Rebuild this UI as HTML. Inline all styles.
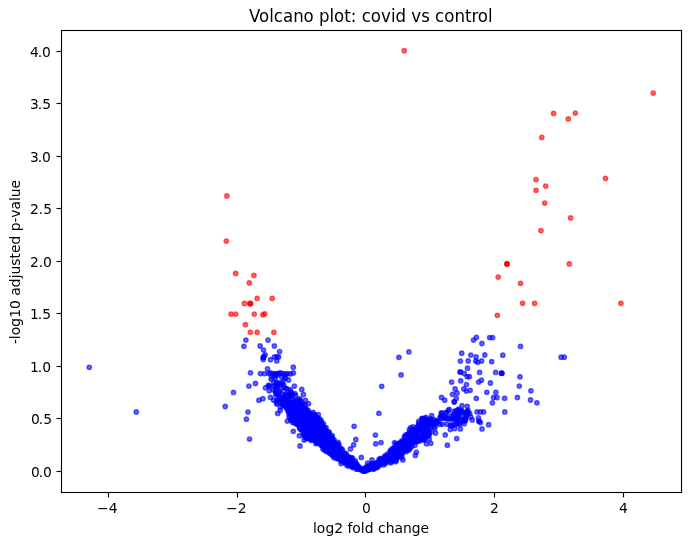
<!DOCTYPE html>
<html lang="en"><head><meta charset="utf-8"><title>Volcano plot: covid vs control</title>
<style>html,body{margin:0;padding:0;background:#fff}svg{display:block}text{font-family:"DejaVu Sans","Liberation Sans",sans-serif;fill:#000}.t{font-size:13.889px}.b circle,.r circle{r:2.196px}</style></head><body>
<svg width="691" height="545" viewBox="0 0 691 545">
<rect width="691" height="545" fill="#fff"/>
<defs><clipPath id="c"><rect x="61" y="30" width="620" height="462"/></clipPath></defs>
<g clip-path="url(#c)">
<g class="b" fill="#00f" fill-opacity="0.6" stroke="#00f" stroke-opacity="0.6" stroke-width="1.389">
<circle cx="282.5" cy="382.5" r="2.196"/><circle cx="280.6" cy="384.4" r="2.196"/><circle cx="283.5" cy="384.6" r="2.196"/><circle cx="274" cy="386.1" r="2.196"/><circle cx="275.9" cy="385.6" r="2.196"/><circle cx="277.7" cy="385.5" r="2.196"/><circle cx="277.5" cy="386.9" r="2.196"/><circle cx="281.5" cy="388.3" r="2.196"/><circle cx="284.2" cy="387.5" r="2.196"/><circle cx="273.2" cy="389.8" r="2.196"/><circle cx="286" cy="388.7" r="2.196"/><circle cx="286.9" cy="388.8" r="2.196"/><circle cx="290.2" cy="389.7" r="2.196"/><circle cx="275.5" cy="391.3" r="2.196"/><circle cx="276" cy="390" r="2.196"/><circle cx="278.6" cy="392.1" r="2.196"/><circle cx="279.9" cy="391.9" r="2.196"/><circle cx="291" cy="392" r="2.196"/><circle cx="276" cy="393.1" r="2.196"/><circle cx="277.2" cy="393.9" r="2.196"/><circle cx="282" cy="394" r="2.196"/><circle cx="285.9" cy="393.9" r="2.196"/><circle cx="290.2" cy="392.9" r="2.196"/><circle cx="291.6" cy="394.1" r="2.196"/><circle cx="292.6" cy="393.9" r="2.196"/><circle cx="294.9" cy="393.6" r="2.196"/><circle cx="275.9" cy="394.7" r="2.196"/><circle cx="285.6" cy="395" r="2.196"/><circle cx="287.9" cy="394.7" r="2.196"/><circle cx="290.2" cy="395.2" r="2.196"/><circle cx="295.6" cy="395.7" r="2.196"/><circle cx="279" cy="396.9" r="2.196"/><circle cx="284.6" cy="396.3" r="2.196"/><circle cx="287.6" cy="396.6" r="2.196"/><circle cx="288.3" cy="396.7" r="2.196"/><circle cx="289.3" cy="396" r="2.196"/><circle cx="291.3" cy="396.3" r="2.196"/><circle cx="278.8" cy="397.5" r="2.196"/><circle cx="282.9" cy="397.4" r="2.196"/><circle cx="285.2" cy="397.6" r="2.196"/><circle cx="288.2" cy="398" r="2.196"/><circle cx="278.8" cy="400" r="2.196"/><circle cx="281.2" cy="400.1" r="2.196"/><circle cx="284" cy="399.2" r="2.196"/><circle cx="285.2" cy="399.5" r="2.196"/><circle cx="288.7" cy="399.2" r="2.196"/><circle cx="292.4" cy="399.7" r="2.196"/><circle cx="298.3" cy="399.3" r="2.196"/><circle cx="300" cy="398.9" r="2.196"/><circle cx="282.5" cy="401.5" r="2.196"/><circle cx="284.3" cy="400.4" r="2.196"/><circle cx="288.3" cy="401.7" r="2.196"/><circle cx="294.9" cy="400.5" r="2.196"/><circle cx="296.7" cy="401.3" r="2.196"/><circle cx="299" cy="401.6" r="2.196"/><circle cx="301" cy="401.4" r="2.196"/><circle cx="280.2" cy="402.5" r="2.196"/><circle cx="282.6" cy="402.4" r="2.196"/><circle cx="284" cy="402.2" r="2.196"/><circle cx="284.7" cy="403.2" r="2.196"/><circle cx="287.6" cy="401.9" r="2.196"/><circle cx="288.7" cy="402.3" r="2.196"/><circle cx="290.8" cy="403.1" r="2.196"/><circle cx="293" cy="402.7" r="2.196"/><circle cx="294.6" cy="402.8" r="2.196"/><circle cx="297.8" cy="403" r="2.196"/><circle cx="299.3" cy="403.3" r="2.196"/><circle cx="283" cy="403.7" r="2.196"/><circle cx="283.7" cy="403.7" r="2.196"/><circle cx="288.1" cy="404.3" r="2.196"/><circle cx="289.6" cy="404.8" r="2.196"/><circle cx="291.8" cy="404.6" r="2.196"/><circle cx="293" cy="404.8" r="2.196"/><circle cx="294.6" cy="404.5" r="2.196"/><circle cx="296.2" cy="403.9" r="2.196"/><circle cx="297.6" cy="404.4" r="2.196"/><circle cx="299.1" cy="404.2" r="2.196"/><circle cx="301.9" cy="404.4" r="2.196"/><circle cx="303.4" cy="403.7" r="2.196"/><circle cx="282.5" cy="404.9" r="2.196"/><circle cx="283.9" cy="405.5" r="2.196"/><circle cx="289.8" cy="406.2" r="2.196"/><circle cx="291.3" cy="405.8" r="2.196"/><circle cx="293.4" cy="405" r="2.196"/><circle cx="293.9" cy="406.2" r="2.196"/><circle cx="296.4" cy="405.6" r="2.196"/><circle cx="297.7" cy="405.3" r="2.196"/><circle cx="300" cy="405" r="2.196"/><circle cx="302.3" cy="406.3" r="2.196"/><circle cx="305.2" cy="405.1" r="2.196"/><circle cx="285.8" cy="407.1" r="2.196"/><circle cx="287.3" cy="407.7" r="2.196"/><circle cx="288.6" cy="406.6" r="2.196"/><circle cx="290.4" cy="407.5" r="2.196"/><circle cx="291.7" cy="406.9" r="2.196"/><circle cx="293.6" cy="407.4" r="2.196"/><circle cx="296.5" cy="407.5" r="2.196"/><circle cx="297.9" cy="407.2" r="2.196"/><circle cx="300.1" cy="407.8" r="2.196"/><circle cx="286.6" cy="408.1" r="2.196"/><circle cx="288.4" cy="408.7" r="2.196"/><circle cx="290.3" cy="408.3" r="2.196"/><circle cx="292" cy="408.6" r="2.196"/><circle cx="293.1" cy="408.2" r="2.196"/><circle cx="293.7" cy="409.1" r="2.196"/><circle cx="295.7" cy="409.3" r="2.196"/><circle cx="297" cy="408" r="2.196"/><circle cx="299.3" cy="408.9" r="2.196"/><circle cx="300.9" cy="408" r="2.196"/><circle cx="302.1" cy="409.3" r="2.196"/><circle cx="303.7" cy="409" r="2.196"/><circle cx="305.6" cy="409" r="2.196"/><circle cx="306.2" cy="409.1" r="2.196"/><circle cx="287.6" cy="410" r="2.196"/><circle cx="288.2" cy="410.6" r="2.196"/><circle cx="289.4" cy="409.4" r="2.196"/><circle cx="291.5" cy="409.9" r="2.196"/><circle cx="293.4" cy="410.5" r="2.196"/><circle cx="293.7" cy="410.7" r="2.196"/><circle cx="295.3" cy="409.8" r="2.196"/><circle cx="298" cy="410.1" r="2.196"/><circle cx="298.5" cy="409.7" r="2.196"/><circle cx="300.2" cy="409.5" r="2.196"/><circle cx="301.3" cy="409.6" r="2.196"/><circle cx="303.5" cy="410.3" r="2.196"/><circle cx="304.8" cy="409.5" r="2.196"/><circle cx="305.7" cy="410.1" r="2.196"/><circle cx="308.2" cy="410.4" r="2.196"/><circle cx="289.1" cy="411.1" r="2.196"/><circle cx="290.2" cy="411.9" r="2.196"/><circle cx="291.8" cy="411.2" r="2.196"/><circle cx="292.2" cy="411.9" r="2.196"/><circle cx="294" cy="412.3" r="2.196"/><circle cx="296" cy="411.8" r="2.196"/><circle cx="297.7" cy="411.3" r="2.196"/><circle cx="298.3" cy="410.9" r="2.196"/><circle cx="299.9" cy="411" r="2.196"/><circle cx="302.6" cy="411.9" r="2.196"/><circle cx="303.8" cy="411.1" r="2.196"/><circle cx="304.6" cy="411.5" r="2.196"/><circle cx="306.3" cy="411.9" r="2.196"/><circle cx="308.7" cy="412.1" r="2.196"/><circle cx="288.6" cy="412.7" r="2.196"/><circle cx="290" cy="413.4" r="2.196"/><circle cx="291" cy="412.5" r="2.196"/><circle cx="292.4" cy="412.6" r="2.196"/><circle cx="294.5" cy="413.7" r="2.196"/><circle cx="295.5" cy="412.6" r="2.196"/><circle cx="297.3" cy="413" r="2.196"/><circle cx="299.1" cy="413.6" r="2.196"/><circle cx="300.1" cy="413.8" r="2.196"/><circle cx="301.2" cy="413.7" r="2.196"/><circle cx="302.7" cy="412.8" r="2.196"/><circle cx="305.6" cy="413.7" r="2.196"/><circle cx="306.4" cy="413.6" r="2.196"/><circle cx="308.1" cy="413.1" r="2.196"/><circle cx="309" cy="413.3" r="2.196"/><circle cx="291.9" cy="414.9" r="2.196"/><circle cx="293.3" cy="414.3" r="2.196"/><circle cx="294.7" cy="413.9" r="2.196"/><circle cx="295.3" cy="413.9" r="2.196"/><circle cx="296.9" cy="415.2" r="2.196"/><circle cx="298.8" cy="414.1" r="2.196"/><circle cx="300.4" cy="414.6" r="2.196"/><circle cx="302.2" cy="414.6" r="2.196"/><circle cx="302.8" cy="414" r="2.196"/><circle cx="304.9" cy="414.2" r="2.196"/><circle cx="306" cy="414.3" r="2.196"/><circle cx="308.2" cy="415" r="2.196"/><circle cx="309.3" cy="415.2" r="2.196"/><circle cx="311.1" cy="414" r="2.196"/><circle cx="312.6" cy="414.3" r="2.196"/><circle cx="314.6" cy="415.2" r="2.196"/><circle cx="315.3" cy="414.8" r="2.196"/><circle cx="289" cy="416.3" r="2.196"/><circle cx="291.7" cy="415.5" r="2.196"/><circle cx="292.2" cy="416.2" r="2.196"/><circle cx="294.7" cy="416" r="2.196"/><circle cx="295.9" cy="416.6" r="2.196"/><circle cx="297.2" cy="415.7" r="2.196"/><circle cx="299.4" cy="415.7" r="2.196"/><circle cx="301.1" cy="416" r="2.196"/><circle cx="302.2" cy="416.7" r="2.196"/><circle cx="303.1" cy="415.8" r="2.196"/><circle cx="304.4" cy="416.2" r="2.196"/><circle cx="306.7" cy="415.6" r="2.196"/><circle cx="308.6" cy="416.2" r="2.196"/><circle cx="308.9" cy="416.7" r="2.196"/><circle cx="311.3" cy="416.7" r="2.196"/><circle cx="313" cy="415.7" r="2.196"/><circle cx="313.9" cy="416.7" r="2.196"/><circle cx="290" cy="418.2" r="2.196"/><circle cx="292" cy="417.5" r="2.196"/><circle cx="293.3" cy="418.1" r="2.196"/><circle cx="293.8" cy="418.2" r="2.196"/><circle cx="296" cy="418.3" r="2.196"/><circle cx="296.7" cy="417" r="2.196"/><circle cx="299.2" cy="417.8" r="2.196"/><circle cx="299.9" cy="417.1" r="2.196"/><circle cx="302.2" cy="418.3" r="2.196"/><circle cx="304.1" cy="417.5" r="2.196"/><circle cx="304.5" cy="417.2" r="2.196"/><circle cx="307.1" cy="417.9" r="2.196"/><circle cx="307.4" cy="417.1" r="2.196"/><circle cx="309.8" cy="416.9" r="2.196"/><circle cx="311.2" cy="416.9" r="2.196"/><circle cx="312.8" cy="417.7" r="2.196"/><circle cx="314.5" cy="417.8" r="2.196"/><circle cx="315.2" cy="418.3" r="2.196"/><circle cx="317.5" cy="417.7" r="2.196"/><circle cx="291.8" cy="419.2" r="2.196"/><circle cx="293.5" cy="418.9" r="2.196"/><circle cx="295.1" cy="418.6" r="2.196"/><circle cx="296.6" cy="418.9" r="2.196"/><circle cx="297.1" cy="418.4" r="2.196"/><circle cx="298.3" cy="418.8" r="2.196"/><circle cx="300.5" cy="419.8" r="2.196"/><circle cx="301.7" cy="419.8" r="2.196"/><circle cx="303.5" cy="419.6" r="2.196"/><circle cx="304.7" cy="419.3" r="2.196"/><circle cx="307.1" cy="418.7" r="2.196"/><circle cx="307.2" cy="418.4" r="2.196"/><circle cx="309" cy="419.1" r="2.196"/><circle cx="311.4" cy="419.4" r="2.196"/><circle cx="313" cy="419.8" r="2.196"/><circle cx="314.2" cy="418.4" r="2.196"/><circle cx="315.3" cy="419.8" r="2.196"/><circle cx="317" cy="418.4" r="2.196"/><circle cx="319.2" cy="418.7" r="2.196"/><circle cx="290.8" cy="420.3" r="2.196"/><circle cx="293" cy="420.9" r="2.196"/><circle cx="294.7" cy="420.4" r="2.196"/><circle cx="295.6" cy="421.3" r="2.196"/><circle cx="296.7" cy="420" r="2.196"/><circle cx="299.4" cy="420.8" r="2.196"/><circle cx="301" cy="420.9" r="2.196"/><circle cx="301.7" cy="420.9" r="2.196"/><circle cx="302.7" cy="420.4" r="2.196"/><circle cx="305.6" cy="420.3" r="2.196"/><circle cx="306.8" cy="421.1" r="2.196"/><circle cx="308.6" cy="420.8" r="2.196"/><circle cx="309.5" cy="420.1" r="2.196"/><circle cx="310.9" cy="420.4" r="2.196"/><circle cx="312.4" cy="420.7" r="2.196"/><circle cx="313.6" cy="420.6" r="2.196"/><circle cx="315.3" cy="420.8" r="2.196"/><circle cx="316.9" cy="420.3" r="2.196"/><circle cx="318.7" cy="421" r="2.196"/><circle cx="319.5" cy="421.2" r="2.196"/><circle cx="321.2" cy="420.3" r="2.196"/><circle cx="292.7" cy="422.6" r="2.196"/><circle cx="295" cy="421.9" r="2.196"/><circle cx="296.1" cy="422.2" r="2.196"/><circle cx="296.8" cy="422.8" r="2.196"/><circle cx="298.3" cy="422.3" r="2.196"/><circle cx="300.1" cy="421.8" r="2.196"/><circle cx="301.7" cy="422" r="2.196"/><circle cx="303.2" cy="422" r="2.196"/><circle cx="305.1" cy="422.3" r="2.196"/><circle cx="306.3" cy="421.7" r="2.196"/><circle cx="307.8" cy="422.6" r="2.196"/><circle cx="309.8" cy="421.4" r="2.196"/><circle cx="311.6" cy="422.4" r="2.196"/><circle cx="312.4" cy="422.1" r="2.196"/><circle cx="313.4" cy="422.3" r="2.196"/><circle cx="315" cy="422.3" r="2.196"/><circle cx="317.1" cy="421.6" r="2.196"/><circle cx="318.1" cy="422.2" r="2.196"/><circle cx="319.9" cy="422.3" r="2.196"/><circle cx="321.1" cy="422.4" r="2.196"/><circle cx="295" cy="423.1" r="2.196"/><circle cx="296.3" cy="423.7" r="2.196"/><circle cx="297" cy="424" r="2.196"/><circle cx="299.2" cy="423.2" r="2.196"/><circle cx="300.6" cy="423.4" r="2.196"/><circle cx="301.2" cy="423.8" r="2.196"/><circle cx="302.9" cy="423.7" r="2.196"/><circle cx="304.3" cy="424.1" r="2.196"/><circle cx="305.7" cy="423.2" r="2.196"/><circle cx="307.5" cy="423" r="2.196"/><circle cx="309" cy="423.3" r="2.196"/><circle cx="310.7" cy="424" r="2.196"/><circle cx="311.8" cy="423.2" r="2.196"/><circle cx="313.6" cy="423" r="2.196"/><circle cx="315.8" cy="424.3" r="2.196"/><circle cx="316.2" cy="424" r="2.196"/><circle cx="319" cy="423.4" r="2.196"/><circle cx="319.3" cy="424.3" r="2.196"/><circle cx="321.3" cy="423.5" r="2.196"/><circle cx="323.4" cy="423.6" r="2.196"/><circle cx="298.1" cy="424.7" r="2.196"/><circle cx="299.1" cy="424.7" r="2.196"/><circle cx="300.6" cy="425.6" r="2.196"/><circle cx="301.3" cy="425.6" r="2.196"/><circle cx="303" cy="425.3" r="2.196"/><circle cx="304.8" cy="425.4" r="2.196"/><circle cx="306.6" cy="424.5" r="2.196"/><circle cx="308.1" cy="425.4" r="2.196"/><circle cx="308.9" cy="425.8" r="2.196"/><circle cx="310.8" cy="424.9" r="2.196"/><circle cx="312.8" cy="425.3" r="2.196"/><circle cx="314" cy="425.1" r="2.196"/><circle cx="316.1" cy="425.8" r="2.196"/><circle cx="317.6" cy="425" r="2.196"/><circle cx="318" cy="425.5" r="2.196"/><circle cx="320.6" cy="425.6" r="2.196"/><circle cx="321.1" cy="425.5" r="2.196"/><circle cx="322.6" cy="424.9" r="2.196"/><circle cx="299.4" cy="427.2" r="2.196"/><circle cx="300.5" cy="426.4" r="2.196"/><circle cx="302.3" cy="426.8" r="2.196"/><circle cx="303.5" cy="427.2" r="2.196"/><circle cx="305.5" cy="426.7" r="2.196"/><circle cx="305.7" cy="426.5" r="2.196"/><circle cx="308.2" cy="427.3" r="2.196"/><circle cx="309.4" cy="426.8" r="2.196"/><circle cx="311.2" cy="427.3" r="2.196"/><circle cx="312.1" cy="427.2" r="2.196"/><circle cx="314.3" cy="425.9" r="2.196"/><circle cx="315.9" cy="426.2" r="2.196"/><circle cx="316.5" cy="426.9" r="2.196"/><circle cx="318.6" cy="426.3" r="2.196"/><circle cx="320.6" cy="427" r="2.196"/><circle cx="321" cy="426.6" r="2.196"/><circle cx="322.7" cy="427.1" r="2.196"/><circle cx="299.8" cy="428.8" r="2.196"/><circle cx="301.7" cy="428" r="2.196"/><circle cx="304" cy="428.8" r="2.196"/><circle cx="304.7" cy="427.5" r="2.196"/><circle cx="306.4" cy="428.2" r="2.196"/><circle cx="308.6" cy="428" r="2.196"/><circle cx="309.3" cy="427.6" r="2.196"/><circle cx="311" cy="428.2" r="2.196"/><circle cx="312" cy="427.8" r="2.196"/><circle cx="313.8" cy="428.8" r="2.196"/><circle cx="315" cy="427.4" r="2.196"/><circle cx="316.7" cy="428.5" r="2.196"/><circle cx="318" cy="428.5" r="2.196"/><circle cx="320" cy="428.1" r="2.196"/><circle cx="320.7" cy="428.4" r="2.196"/><circle cx="322.7" cy="428.7" r="2.196"/><circle cx="324.1" cy="427.5" r="2.196"/><circle cx="326.1" cy="427.7" r="2.196"/><circle cx="301.1" cy="429.1" r="2.196"/><circle cx="301.2" cy="429.3" r="2.196"/><circle cx="302.9" cy="429.6" r="2.196"/><circle cx="305.3" cy="429" r="2.196"/><circle cx="306.9" cy="429" r="2.196"/><circle cx="308.3" cy="429.6" r="2.196"/><circle cx="309.2" cy="429.4" r="2.196"/><circle cx="310.7" cy="430.3" r="2.196"/><circle cx="312" cy="429.7" r="2.196"/><circle cx="313.3" cy="430.1" r="2.196"/><circle cx="315.8" cy="429.8" r="2.196"/><circle cx="317.6" cy="429" r="2.196"/><circle cx="318.7" cy="429.3" r="2.196"/><circle cx="319.8" cy="430" r="2.196"/><circle cx="322.1" cy="429.4" r="2.196"/><circle cx="322.9" cy="430.1" r="2.196"/><circle cx="324.5" cy="428.9" r="2.196"/><circle cx="325.3" cy="430.1" r="2.196"/><circle cx="302.1" cy="430.5" r="2.196"/><circle cx="303.3" cy="430.7" r="2.196"/><circle cx="305.2" cy="430.5" r="2.196"/><circle cx="306.2" cy="431.2" r="2.196"/><circle cx="307.8" cy="431.6" r="2.196"/><circle cx="309.7" cy="430.8" r="2.196"/><circle cx="311.6" cy="430.8" r="2.196"/><circle cx="311.8" cy="431" r="2.196"/><circle cx="314.1" cy="430.9" r="2.196"/><circle cx="314.8" cy="431.2" r="2.196"/><circle cx="316.6" cy="431.3" r="2.196"/><circle cx="318.4" cy="430.7" r="2.196"/><circle cx="319.6" cy="431.5" r="2.196"/><circle cx="321" cy="431" r="2.196"/><circle cx="322.4" cy="430.6" r="2.196"/><circle cx="324" cy="430.8" r="2.196"/><circle cx="326.3" cy="431" r="2.196"/><circle cx="328.8" cy="431.7" r="2.196"/><circle cx="303.9" cy="432.4" r="2.196"/><circle cx="304.9" cy="433" r="2.196"/><circle cx="306.2" cy="432.9" r="2.196"/><circle cx="308.4" cy="433" r="2.196"/><circle cx="309.2" cy="432.3" r="2.196"/><circle cx="311.4" cy="432.3" r="2.196"/><circle cx="311.9" cy="433.3" r="2.196"/><circle cx="314.4" cy="432.6" r="2.196"/><circle cx="315.5" cy="432.5" r="2.196"/><circle cx="316.3" cy="433.2" r="2.196"/><circle cx="317.9" cy="432.9" r="2.196"/><circle cx="320.4" cy="432.9" r="2.196"/><circle cx="320.7" cy="431.9" r="2.196"/><circle cx="323.3" cy="432.1" r="2.196"/><circle cx="324.8" cy="432.1" r="2.196"/><circle cx="326.5" cy="433" r="2.196"/><circle cx="329.3" cy="432.9" r="2.196"/><circle cx="305" cy="434.6" r="2.196"/><circle cx="306.9" cy="433.4" r="2.196"/><circle cx="308" cy="433.6" r="2.196"/><circle cx="309.3" cy="433.6" r="2.196"/><circle cx="311" cy="434" r="2.196"/><circle cx="311.8" cy="434.4" r="2.196"/><circle cx="313.5" cy="434.6" r="2.196"/><circle cx="316" cy="433.6" r="2.196"/><circle cx="317.3" cy="434.2" r="2.196"/><circle cx="317.7" cy="434" r="2.196"/><circle cx="320" cy="434.8" r="2.196"/><circle cx="320.8" cy="434.4" r="2.196"/><circle cx="322.5" cy="434" r="2.196"/><circle cx="324.1" cy="433.8" r="2.196"/><circle cx="325.4" cy="434" r="2.196"/><circle cx="327.1" cy="434.5" r="2.196"/><circle cx="328.3" cy="434.3" r="2.196"/><circle cx="303.5" cy="435" r="2.196"/><circle cx="304.6" cy="435" r="2.196"/><circle cx="306.7" cy="435.9" r="2.196"/><circle cx="307.5" cy="435.9" r="2.196"/><circle cx="309.6" cy="435.2" r="2.196"/><circle cx="310.7" cy="435.3" r="2.196"/><circle cx="312.9" cy="435.8" r="2.196"/><circle cx="313.4" cy="435.2" r="2.196"/><circle cx="314.7" cy="435.3" r="2.196"/><circle cx="316.9" cy="436.2" r="2.196"/><circle cx="318.6" cy="435.7" r="2.196"/><circle cx="319.7" cy="434.9" r="2.196"/><circle cx="321.8" cy="435" r="2.196"/><circle cx="322.5" cy="435.8" r="2.196"/><circle cx="323.7" cy="435.6" r="2.196"/><circle cx="325.5" cy="435.4" r="2.196"/><circle cx="326.7" cy="435.2" r="2.196"/><circle cx="328.6" cy="435.5" r="2.196"/><circle cx="332.3" cy="435.6" r="2.196"/><circle cx="305" cy="437.2" r="2.196"/><circle cx="307.6" cy="437.7" r="2.196"/><circle cx="309.1" cy="437.7" r="2.196"/><circle cx="310.6" cy="437.1" r="2.196"/><circle cx="311.8" cy="436.7" r="2.196"/><circle cx="313.3" cy="437" r="2.196"/><circle cx="315.7" cy="437.5" r="2.196"/><circle cx="317.5" cy="436.9" r="2.196"/><circle cx="318.4" cy="437.7" r="2.196"/><circle cx="319.5" cy="436.6" r="2.196"/><circle cx="320.7" cy="436.6" r="2.196"/><circle cx="323" cy="437.6" r="2.196"/><circle cx="324.4" cy="437.1" r="2.196"/><circle cx="325.5" cy="437.7" r="2.196"/><circle cx="327.4" cy="437.3" r="2.196"/><circle cx="329.6" cy="437.2" r="2.196"/><circle cx="331" cy="436.6" r="2.196"/><circle cx="306.7" cy="438.7" r="2.196"/><circle cx="307.5" cy="438.2" r="2.196"/><circle cx="311" cy="439.2" r="2.196"/><circle cx="312.4" cy="438.3" r="2.196"/><circle cx="314.6" cy="438.6" r="2.196"/><circle cx="315.2" cy="438.1" r="2.196"/><circle cx="316.9" cy="438.6" r="2.196"/><circle cx="318.8" cy="438" r="2.196"/><circle cx="320.2" cy="438.7" r="2.196"/><circle cx="321.4" cy="437.9" r="2.196"/><circle cx="323.4" cy="438.8" r="2.196"/><circle cx="323.8" cy="439.2" r="2.196"/><circle cx="325.4" cy="438.9" r="2.196"/><circle cx="327.9" cy="438.8" r="2.196"/><circle cx="328.3" cy="438.5" r="2.196"/><circle cx="330.2" cy="438.1" r="2.196"/><circle cx="332.2" cy="437.9" r="2.196"/><circle cx="311.1" cy="440.4" r="2.196"/><circle cx="312.2" cy="439.8" r="2.196"/><circle cx="314.3" cy="439.8" r="2.196"/><circle cx="314.7" cy="439.4" r="2.196"/><circle cx="316.3" cy="440.8" r="2.196"/><circle cx="318.2" cy="440.6" r="2.196"/><circle cx="320.1" cy="440" r="2.196"/><circle cx="322.1" cy="439.8" r="2.196"/><circle cx="322.9" cy="439.6" r="2.196"/><circle cx="324.4" cy="440.5" r="2.196"/><circle cx="325.2" cy="440.8" r="2.196"/><circle cx="328" cy="439.4" r="2.196"/><circle cx="328.4" cy="439.7" r="2.196"/><circle cx="330.8" cy="440" r="2.196"/><circle cx="331.8" cy="440.1" r="2.196"/><circle cx="334.1" cy="439.6" r="2.196"/><circle cx="316.1" cy="441.4" r="2.196"/><circle cx="317.2" cy="442.1" r="2.196"/><circle cx="318.3" cy="441.4" r="2.196"/><circle cx="320.1" cy="441.7" r="2.196"/><circle cx="320.7" cy="440.9" r="2.196"/><circle cx="322.3" cy="442.1" r="2.196"/><circle cx="325" cy="441.2" r="2.196"/><circle cx="326.3" cy="441.9" r="2.196"/><circle cx="327.5" cy="441.7" r="2.196"/><circle cx="328.9" cy="441.7" r="2.196"/><circle cx="330.3" cy="441.9" r="2.196"/><circle cx="332.2" cy="442.2" r="2.196"/><circle cx="333.5" cy="441.4" r="2.196"/><circle cx="315.9" cy="443.7" r="2.196"/><circle cx="317.4" cy="442.7" r="2.196"/><circle cx="318.7" cy="443" r="2.196"/><circle cx="320.4" cy="443.8" r="2.196"/><circle cx="321.5" cy="443.5" r="2.196"/><circle cx="322.8" cy="443.1" r="2.196"/><circle cx="324" cy="442.7" r="2.196"/><circle cx="326.4" cy="443.4" r="2.196"/><circle cx="327.4" cy="443.2" r="2.196"/><circle cx="328.2" cy="443" r="2.196"/><circle cx="330" cy="443.1" r="2.196"/><circle cx="331.5" cy="443.6" r="2.196"/><circle cx="333.8" cy="443.5" r="2.196"/><circle cx="334.5" cy="443.7" r="2.196"/><circle cx="336.3" cy="443.8" r="2.196"/><circle cx="338.2" cy="442.5" r="2.196"/><circle cx="320.4" cy="444.3" r="2.196"/><circle cx="321.9" cy="444.5" r="2.196"/><circle cx="322.8" cy="444.9" r="2.196"/><circle cx="325" cy="445" r="2.196"/><circle cx="325.7" cy="443.9" r="2.196"/><circle cx="327.2" cy="444.1" r="2.196"/><circle cx="328.3" cy="444.8" r="2.196"/><circle cx="330" cy="444.9" r="2.196"/><circle cx="331.2" cy="445.1" r="2.196"/><circle cx="334" cy="444.3" r="2.196"/><circle cx="335.2" cy="444.1" r="2.196"/><circle cx="336.6" cy="444.7" r="2.196"/><circle cx="338.9" cy="444.7" r="2.196"/><circle cx="321.5" cy="445.5" r="2.196"/><circle cx="323.6" cy="445.9" r="2.196"/><circle cx="324.8" cy="446.6" r="2.196"/><circle cx="325.7" cy="446.4" r="2.196"/><circle cx="327.6" cy="445.4" r="2.196"/><circle cx="328.4" cy="445.9" r="2.196"/><circle cx="329.7" cy="446.7" r="2.196"/><circle cx="332.6" cy="446.8" r="2.196"/><circle cx="333.9" cy="446.8" r="2.196"/><circle cx="335.4" cy="445.4" r="2.196"/><circle cx="336.6" cy="446.5" r="2.196"/><circle cx="337.3" cy="446.1" r="2.196"/><circle cx="325.8" cy="447.5" r="2.196"/><circle cx="327.2" cy="448" r="2.196"/><circle cx="328.6" cy="447.9" r="2.196"/><circle cx="329.7" cy="447.9" r="2.196"/><circle cx="331.6" cy="448.3" r="2.196"/><circle cx="333.1" cy="448" r="2.196"/><circle cx="334.4" cy="448.2" r="2.196"/><circle cx="336.1" cy="447.4" r="2.196"/><circle cx="337.9" cy="447.3" r="2.196"/><circle cx="340.7" cy="448.1" r="2.196"/><circle cx="322.9" cy="448.9" r="2.196"/><circle cx="324.4" cy="448.9" r="2.196"/><circle cx="326.6" cy="448.8" r="2.196"/><circle cx="326.7" cy="448.9" r="2.196"/><circle cx="329.2" cy="449.4" r="2.196"/><circle cx="329.8" cy="449.6" r="2.196"/><circle cx="331.9" cy="449.2" r="2.196"/><circle cx="333.4" cy="449.1" r="2.196"/><circle cx="335.3" cy="449.5" r="2.196"/><circle cx="336.8" cy="448.9" r="2.196"/><circle cx="337.7" cy="449.7" r="2.196"/><circle cx="339.8" cy="448.9" r="2.196"/><circle cx="340.8" cy="449.3" r="2.196"/><circle cx="342.5" cy="449.7" r="2.196"/><circle cx="324.7" cy="450.2" r="2.196"/><circle cx="328" cy="451" r="2.196"/><circle cx="328.8" cy="450.2" r="2.196"/><circle cx="331.1" cy="450" r="2.196"/><circle cx="331.4" cy="451.1" r="2.196"/><circle cx="333.4" cy="449.9" r="2.196"/><circle cx="334.9" cy="451.1" r="2.196"/><circle cx="336.8" cy="450.2" r="2.196"/><circle cx="338" cy="449.9" r="2.196"/><circle cx="339.7" cy="450.6" r="2.196"/><circle cx="340.3" cy="450.7" r="2.196"/><circle cx="326.5" cy="451.4" r="2.196"/><circle cx="327.6" cy="451.6" r="2.196"/><circle cx="329.2" cy="451.6" r="2.196"/><circle cx="331.1" cy="452.3" r="2.196"/><circle cx="332.4" cy="452.1" r="2.196"/><circle cx="334.1" cy="452.4" r="2.196"/><circle cx="334.7" cy="452.4" r="2.196"/><circle cx="335.9" cy="452" r="2.196"/><circle cx="337.9" cy="451.5" r="2.196"/><circle cx="339" cy="452.8" r="2.196"/><circle cx="341.1" cy="452.3" r="2.196"/><circle cx="342.6" cy="452.2" r="2.196"/><circle cx="329.5" cy="453" r="2.196"/><circle cx="330.5" cy="453.5" r="2.196"/><circle cx="332.5" cy="453.3" r="2.196"/><circle cx="332.9" cy="454.2" r="2.196"/><circle cx="335.3" cy="453.4" r="2.196"/><circle cx="336.7" cy="453.7" r="2.196"/><circle cx="337.4" cy="453.4" r="2.196"/><circle cx="340" cy="453.6" r="2.196"/><circle cx="340.3" cy="453.8" r="2.196"/><circle cx="342.7" cy="453.3" r="2.196"/><circle cx="343.6" cy="453.9" r="2.196"/><circle cx="346" cy="453.5" r="2.196"/><circle cx="331.6" cy="454.4" r="2.196"/><circle cx="332.9" cy="455.3" r="2.196"/><circle cx="335.2" cy="454.5" r="2.196"/><circle cx="336.8" cy="455.7" r="2.196"/><circle cx="338.2" cy="454.9" r="2.196"/><circle cx="339.7" cy="455" r="2.196"/><circle cx="340.8" cy="455.1" r="2.196"/><circle cx="341.9" cy="455.7" r="2.196"/><circle cx="344.5" cy="454.6" r="2.196"/><circle cx="345.5" cy="454.7" r="2.196"/><circle cx="333.2" cy="456.1" r="2.196"/><circle cx="334.9" cy="456.1" r="2.196"/><circle cx="336.7" cy="455.9" r="2.196"/><circle cx="337.8" cy="456.9" r="2.196"/><circle cx="339.4" cy="456.2" r="2.196"/><circle cx="341.4" cy="456.4" r="2.196"/><circle cx="343.1" cy="456.4" r="2.196"/><circle cx="343.4" cy="456.5" r="2.196"/><circle cx="345.9" cy="457.1" r="2.196"/><circle cx="346.5" cy="455.9" r="2.196"/><circle cx="348.6" cy="456.7" r="2.196"/><circle cx="334" cy="457.7" r="2.196"/><circle cx="336.3" cy="458" r="2.196"/><circle cx="337.6" cy="458.7" r="2.196"/><circle cx="340" cy="458.6" r="2.196"/><circle cx="340.6" cy="457.4" r="2.196"/><circle cx="342.9" cy="458.8" r="2.196"/><circle cx="343.6" cy="458.8" r="2.196"/><circle cx="345.2" cy="458.7" r="2.196"/><circle cx="347.2" cy="457.8" r="2.196"/><circle cx="347.9" cy="457.7" r="2.196"/><circle cx="350" cy="457.8" r="2.196"/><circle cx="352" cy="457.9" r="2.196"/><circle cx="352.2" cy="458.2" r="2.196"/><circle cx="339.2" cy="458.9" r="2.196"/><circle cx="341.5" cy="459.9" r="2.196"/><circle cx="342.1" cy="459.4" r="2.196"/><circle cx="343.2" cy="460.2" r="2.196"/><circle cx="345" cy="458.9" r="2.196"/><circle cx="347.5" cy="459.9" r="2.196"/><circle cx="349" cy="459.8" r="2.196"/><circle cx="349.6" cy="459.7" r="2.196"/><circle cx="340.7" cy="460.5" r="2.196"/><circle cx="342.6" cy="461.6" r="2.196"/><circle cx="344.6" cy="461.7" r="2.196"/><circle cx="345.5" cy="461.4" r="2.196"/><circle cx="346.7" cy="461.4" r="2.196"/><circle cx="348.3" cy="461.2" r="2.196"/><circle cx="349.9" cy="460.8" r="2.196"/><circle cx="351.4" cy="461.4" r="2.196"/><circle cx="352.9" cy="461.4" r="2.196"/><circle cx="355.1" cy="460.7" r="2.196"/><circle cx="344.9" cy="462.9" r="2.196"/><circle cx="347.4" cy="462" r="2.196"/><circle cx="348.9" cy="461.9" r="2.196"/><circle cx="350.5" cy="463.1" r="2.196"/><circle cx="351.9" cy="462.7" r="2.196"/><circle cx="353.2" cy="462.5" r="2.196"/><circle cx="354.9" cy="462.9" r="2.196"/><circle cx="355.8" cy="462.9" r="2.196"/><circle cx="349.8" cy="464.6" r="2.196"/><circle cx="351.2" cy="464.2" r="2.196"/><circle cx="352.5" cy="464.6" r="2.196"/><circle cx="355" cy="463.8" r="2.196"/><circle cx="356.5" cy="464.7" r="2.196"/><circle cx="346.9" cy="465.2" r="2.196"/><circle cx="348.3" cy="466.1" r="2.196"/><circle cx="353.6" cy="465.3" r="2.196"/><circle cx="354.3" cy="466.1" r="2.196"/><circle cx="356" cy="465.6" r="2.196"/><circle cx="357.2" cy="465" r="2.196"/><circle cx="351.5" cy="466.7" r="2.196"/><circle cx="353.2" cy="467.7" r="2.196"/><circle cx="354" cy="466.6" r="2.196"/><circle cx="355.5" cy="467" r="2.196"/><circle cx="357.6" cy="466.7" r="2.196"/><circle cx="358.8" cy="466.6" r="2.196"/><circle cx="356.6" cy="469.2" r="2.196"/><circle cx="357.3" cy="469.1" r="2.196"/><circle cx="358.2" cy="468.2" r="2.196"/><circle cx="361.2" cy="468.9" r="2.196"/><circle cx="360.8" cy="469.6" r="2.196"/><circle cx="361.9" cy="470.4" r="2.196"/><circle cx="363" cy="469.5" r="2.196"/><circle cx="364.7" cy="470.5" r="2.196"/><circle cx="363.2" cy="470.9" r="2.196"/><circle cx="364.4" cy="471" r="2.196"/><circle cx="270.3" cy="372.9" r="2.196"/><circle cx="275.8" cy="374.2" r="2.196"/><circle cx="280.2" cy="372.8" r="2.196"/><circle cx="286" cy="374.3" r="2.196"/><circle cx="290.5" cy="373.9" r="2.196"/><circle cx="271.8" cy="376.8" r="2.196"/><circle cx="274.7" cy="376.1" r="2.196"/><circle cx="277.3" cy="375" r="2.196"/><circle cx="281.7" cy="377.2" r="2.196"/><circle cx="285.4" cy="378" r="2.196"/><circle cx="268.5" cy="385.3" r="2.196"/><circle cx="273.6" cy="382.4" r="2.196"/><circle cx="277.3" cy="382.4" r="2.196"/><circle cx="280.2" cy="383.1" r="2.196"/><circle cx="276.6" cy="400.7" r="2.196"/><circle cx="421.7" cy="419" r="2.196"/><circle cx="424" cy="418.8" r="2.196"/><circle cx="425.4" cy="418.9" r="2.196"/><circle cx="425" cy="420.8" r="2.196"/><circle cx="418.7" cy="421.5" r="2.196"/><circle cx="418.7" cy="423.5" r="2.196"/><circle cx="424.4" cy="423.4" r="2.196"/><circle cx="426.4" cy="422.7" r="2.196"/><circle cx="421" cy="424.4" r="2.196"/><circle cx="423.7" cy="425.1" r="2.196"/><circle cx="426.9" cy="425.6" r="2.196"/><circle cx="412.8" cy="426.8" r="2.196"/><circle cx="418" cy="425.8" r="2.196"/><circle cx="426.8" cy="426.5" r="2.196"/><circle cx="410.5" cy="427.8" r="2.196"/><circle cx="417.1" cy="427.5" r="2.196"/><circle cx="419" cy="428.8" r="2.196"/><circle cx="424.1" cy="428.3" r="2.196"/><circle cx="426.2" cy="427.9" r="2.196"/><circle cx="409.3" cy="429.8" r="2.196"/><circle cx="413" cy="429.8" r="2.196"/><circle cx="415.5" cy="429" r="2.196"/><circle cx="416.1" cy="430.2" r="2.196"/><circle cx="418.7" cy="429.5" r="2.196"/><circle cx="419.6" cy="429.1" r="2.196"/><circle cx="421.3" cy="429.9" r="2.196"/><circle cx="424.5" cy="430.1" r="2.196"/><circle cx="412.1" cy="431.1" r="2.196"/><circle cx="415.3" cy="432.1" r="2.196"/><circle cx="421.5" cy="432.2" r="2.196"/><circle cx="409.2" cy="432.8" r="2.196"/><circle cx="411" cy="432.9" r="2.196"/><circle cx="415.6" cy="432.7" r="2.196"/><circle cx="415.8" cy="432.5" r="2.196"/><circle cx="423.7" cy="433.4" r="2.196"/><circle cx="425.8" cy="432.4" r="2.196"/><circle cx="429.1" cy="433.3" r="2.196"/><circle cx="405.9" cy="435" r="2.196"/><circle cx="407.7" cy="434.3" r="2.196"/><circle cx="408.1" cy="434.8" r="2.196"/><circle cx="416.2" cy="434.6" r="2.196"/><circle cx="419" cy="434.7" r="2.196"/><circle cx="423.9" cy="434.9" r="2.196"/><circle cx="426.6" cy="434.6" r="2.196"/><circle cx="427.8" cy="434.2" r="2.196"/><circle cx="428.6" cy="434.2" r="2.196"/><circle cx="404.4" cy="436.4" r="2.196"/><circle cx="408.8" cy="436.8" r="2.196"/><circle cx="410.4" cy="436.8" r="2.196"/><circle cx="412.2" cy="435.8" r="2.196"/><circle cx="415.1" cy="435.8" r="2.196"/><circle cx="417.1" cy="435.8" r="2.196"/><circle cx="404.8" cy="437.7" r="2.196"/><circle cx="408.3" cy="437.1" r="2.196"/><circle cx="413.8" cy="437.1" r="2.196"/><circle cx="415" cy="437.6" r="2.196"/><circle cx="416.6" cy="437.2" r="2.196"/><circle cx="423.7" cy="438.5" r="2.196"/><circle cx="411.1" cy="440" r="2.196"/><circle cx="413.7" cy="438.8" r="2.196"/><circle cx="423.8" cy="439.6" r="2.196"/><circle cx="401.7" cy="440.8" r="2.196"/><circle cx="403.9" cy="440.4" r="2.196"/><circle cx="406.6" cy="441.7" r="2.196"/><circle cx="408.6" cy="441" r="2.196"/><circle cx="410.6" cy="440.5" r="2.196"/><circle cx="411.3" cy="440.5" r="2.196"/><circle cx="413.8" cy="441.7" r="2.196"/><circle cx="414.4" cy="440.5" r="2.196"/><circle cx="418.1" cy="441.2" r="2.196"/><circle cx="419.5" cy="440.9" r="2.196"/><circle cx="398.8" cy="443.4" r="2.196"/><circle cx="399.8" cy="442.8" r="2.196"/><circle cx="402.6" cy="442" r="2.196"/><circle cx="403.7" cy="442.2" r="2.196"/><circle cx="404.7" cy="441.9" r="2.196"/><circle cx="406.3" cy="441.8" r="2.196"/><circle cx="408.8" cy="442.8" r="2.196"/><circle cx="410.6" cy="441.9" r="2.196"/><circle cx="412.4" cy="441.9" r="2.196"/><circle cx="413.3" cy="442.4" r="2.196"/><circle cx="395.9" cy="444" r="2.196"/><circle cx="397" cy="444.5" r="2.196"/><circle cx="398.9" cy="444.6" r="2.196"/><circle cx="399.9" cy="444.5" r="2.196"/><circle cx="402.3" cy="444.9" r="2.196"/><circle cx="403.7" cy="444.1" r="2.196"/><circle cx="405" cy="443.8" r="2.196"/><circle cx="407.4" cy="444.6" r="2.196"/><circle cx="409" cy="445" r="2.196"/><circle cx="410.6" cy="444.5" r="2.196"/><circle cx="396.9" cy="446.2" r="2.196"/><circle cx="398.2" cy="445.3" r="2.196"/><circle cx="400.7" cy="446.1" r="2.196"/><circle cx="402.8" cy="445.9" r="2.196"/><circle cx="404" cy="445.6" r="2.196"/><circle cx="404.8" cy="445.6" r="2.196"/><circle cx="407.2" cy="446.5" r="2.196"/><circle cx="409.9" cy="445.4" r="2.196"/><circle cx="394.1" cy="447.4" r="2.196"/><circle cx="396.4" cy="447.6" r="2.196"/><circle cx="396.9" cy="447.3" r="2.196"/><circle cx="398.8" cy="447.4" r="2.196"/><circle cx="400.3" cy="448" r="2.196"/><circle cx="402.4" cy="446.8" r="2.196"/><circle cx="403" cy="448" r="2.196"/><circle cx="405.8" cy="447.4" r="2.196"/><circle cx="406.9" cy="448" r="2.196"/><circle cx="411.9" cy="446.6" r="2.196"/><circle cx="392.2" cy="448.7" r="2.196"/><circle cx="394.6" cy="448.9" r="2.196"/><circle cx="395.1" cy="449.1" r="2.196"/><circle cx="396.7" cy="448.7" r="2.196"/><circle cx="399" cy="448.3" r="2.196"/><circle cx="400.3" cy="449.7" r="2.196"/><circle cx="402.5" cy="449.6" r="2.196"/><circle cx="403.5" cy="449.2" r="2.196"/><circle cx="404.9" cy="449.7" r="2.196"/><circle cx="408.9" cy="448.7" r="2.196"/><circle cx="410" cy="448.3" r="2.196"/><circle cx="390.5" cy="450.5" r="2.196"/><circle cx="393.2" cy="450.5" r="2.196"/><circle cx="394.5" cy="450.1" r="2.196"/><circle cx="396.1" cy="451.3" r="2.196"/><circle cx="397.7" cy="451.1" r="2.196"/><circle cx="399.1" cy="451.2" r="2.196"/><circle cx="400.3" cy="450.4" r="2.196"/><circle cx="404.2" cy="450.9" r="2.196"/><circle cx="404.9" cy="450.3" r="2.196"/><circle cx="406.8" cy="450.2" r="2.196"/><circle cx="409" cy="450.1" r="2.196"/><circle cx="390.3" cy="451.5" r="2.196"/><circle cx="392.5" cy="452.8" r="2.196"/><circle cx="393.6" cy="451.8" r="2.196"/><circle cx="396.2" cy="452.5" r="2.196"/><circle cx="397.1" cy="452.6" r="2.196"/><circle cx="398.3" cy="452" r="2.196"/><circle cx="400.4" cy="451.8" r="2.196"/><circle cx="401.8" cy="452.8" r="2.196"/><circle cx="403" cy="451.6" r="2.196"/><circle cx="406.5" cy="451.6" r="2.196"/><circle cx="387.2" cy="454.1" r="2.196"/><circle cx="389.9" cy="453.1" r="2.196"/><circle cx="391.3" cy="453.7" r="2.196"/><circle cx="392.5" cy="454.5" r="2.196"/><circle cx="393.9" cy="454.5" r="2.196"/><circle cx="395.1" cy="454.2" r="2.196"/><circle cx="397.8" cy="453.6" r="2.196"/><circle cx="398.4" cy="453.4" r="2.196"/><circle cx="401.1" cy="454.5" r="2.196"/><circle cx="402.4" cy="453.6" r="2.196"/><circle cx="384.9" cy="455.9" r="2.196"/><circle cx="387.4" cy="456" r="2.196"/><circle cx="390.1" cy="455.5" r="2.196"/><circle cx="391.6" cy="455.9" r="2.196"/><circle cx="392.4" cy="455" r="2.196"/><circle cx="394.7" cy="455.8" r="2.196"/><circle cx="395" cy="455.3" r="2.196"/><circle cx="397.4" cy="455.7" r="2.196"/><circle cx="398.1" cy="455.1" r="2.196"/><circle cx="400.4" cy="455.1" r="2.196"/><circle cx="384.6" cy="457.3" r="2.196"/><circle cx="386.6" cy="456.8" r="2.196"/><circle cx="387.2" cy="456.6" r="2.196"/><circle cx="389.1" cy="456.7" r="2.196"/><circle cx="390.2" cy="456.7" r="2.196"/><circle cx="393" cy="457.5" r="2.196"/><circle cx="394.3" cy="456.2" r="2.196"/><circle cx="396" cy="457.5" r="2.196"/><circle cx="397.2" cy="456.7" r="2.196"/><circle cx="400" cy="456.4" r="2.196"/><circle cx="402" cy="457.7" r="2.196"/><circle cx="379.1" cy="459.4" r="2.196"/><circle cx="380.7" cy="458.4" r="2.196"/><circle cx="382.4" cy="458.9" r="2.196"/><circle cx="383.7" cy="459.3" r="2.196"/><circle cx="386.7" cy="459.4" r="2.196"/><circle cx="388.1" cy="457.8" r="2.196"/><circle cx="389.8" cy="458.9" r="2.196"/><circle cx="390.5" cy="457.9" r="2.196"/><circle cx="392.7" cy="458.4" r="2.196"/><circle cx="394.1" cy="458.2" r="2.196"/><circle cx="394.9" cy="458.9" r="2.196"/><circle cx="396.8" cy="458.5" r="2.196"/><circle cx="379.8" cy="459.4" r="2.196"/><circle cx="381.7" cy="460.5" r="2.196"/><circle cx="382.8" cy="460.2" r="2.196"/><circle cx="383.9" cy="459.9" r="2.196"/><circle cx="386.8" cy="459.9" r="2.196"/><circle cx="386.9" cy="460.1" r="2.196"/><circle cx="388.6" cy="459.9" r="2.196"/><circle cx="391.1" cy="459.9" r="2.196"/><circle cx="392.8" cy="460.8" r="2.196"/><circle cx="396.3" cy="460.5" r="2.196"/><circle cx="376.9" cy="462.4" r="2.196"/><circle cx="378.2" cy="462.4" r="2.196"/><circle cx="380.2" cy="461.7" r="2.196"/><circle cx="381.8" cy="462.3" r="2.196"/><circle cx="382.9" cy="461.4" r="2.196"/><circle cx="384.8" cy="462.1" r="2.196"/><circle cx="385.3" cy="462.3" r="2.196"/><circle cx="387.1" cy="461.1" r="2.196"/><circle cx="390.4" cy="461.8" r="2.196"/><circle cx="371.7" cy="463.9" r="2.196"/><circle cx="373.1" cy="463.8" r="2.196"/><circle cx="374.2" cy="463.9" r="2.196"/><circle cx="376.7" cy="463.4" r="2.196"/><circle cx="378.9" cy="463.5" r="2.196"/><circle cx="379.7" cy="462.9" r="2.196"/><circle cx="381.5" cy="463" r="2.196"/><circle cx="382.9" cy="463.7" r="2.196"/><circle cx="385.8" cy="463.3" r="2.196"/><circle cx="390.9" cy="462.8" r="2.196"/><circle cx="368.4" cy="465.6" r="2.196"/><circle cx="371.2" cy="465.1" r="2.196"/><circle cx="373.7" cy="465" r="2.196"/><circle cx="375.6" cy="465" r="2.196"/><circle cx="376.6" cy="465" r="2.196"/><circle cx="377.4" cy="465" r="2.196"/><circle cx="379.5" cy="465.2" r="2.196"/><circle cx="383.6" cy="464.9" r="2.196"/><circle cx="366.6" cy="466.8" r="2.196"/><circle cx="368.5" cy="466.6" r="2.196"/><circle cx="369.9" cy="467" r="2.196"/><circle cx="372.3" cy="466" r="2.196"/><circle cx="372.5" cy="465.8" r="2.196"/><circle cx="374.8" cy="466.1" r="2.196"/><circle cx="376" cy="467.2" r="2.196"/><circle cx="378" cy="466.7" r="2.196"/><circle cx="365.1" cy="467.9" r="2.196"/><circle cx="366.5" cy="468.5" r="2.196"/><circle cx="369.1" cy="468.8" r="2.196"/><circle cx="369.8" cy="468.4" r="2.196"/><circle cx="372.2" cy="467.7" r="2.196"/><circle cx="372.6" cy="468.9" r="2.196"/><circle cx="374.7" cy="468.6" r="2.196"/><circle cx="376.9" cy="467.4" r="2.196"/><circle cx="365.9" cy="470.3" r="2.196"/><circle cx="367" cy="469.7" r="2.196"/><circle cx="368.2" cy="469" r="2.196"/><circle cx="373.5" cy="469.1" r="2.196"/><circle cx="416.2" cy="442" r="2.196"/><circle cx="423.6" cy="434.4" r="2.196"/><circle cx="419.3" cy="438.5" r="2.196"/><circle cx="427" cy="434.9" r="2.196"/><circle cx="431.5" cy="431.7" r="2.196"/><circle cx="430.3" cy="418.7" r="2.196"/><circle cx="434.2" cy="419.7" r="2.196"/><circle cx="431.6" cy="415.7" r="2.196"/><circle cx="417.1" cy="439.9" r="2.196"/><circle cx="428" cy="436" r="2.196"/><circle cx="428.3" cy="424.4" r="2.196"/><circle cx="436.2" cy="421.2" r="2.196"/><circle cx="427.8" cy="435.7" r="2.196"/><circle cx="426.4" cy="424.9" r="2.196"/><circle cx="428.1" cy="430.9" r="2.196"/><circle cx="429.2" cy="431.1" r="2.196"/><circle cx="437.1" cy="421.8" r="2.196"/><circle cx="424.4" cy="437.3" r="2.196"/><circle cx="433.5" cy="423.8" r="2.196"/><circle cx="421.4" cy="430.3" r="2.196"/><circle cx="425.5" cy="425.9" r="2.196"/><circle cx="436.4" cy="424.1" r="2.196"/><circle cx="423" cy="418.8" r="2.196"/><circle cx="416.5" cy="438.4" r="2.196"/><circle cx="425.8" cy="417.3" r="2.196"/><circle cx="426.4" cy="435.5" r="2.196"/><circle cx="434.1" cy="427" r="2.196"/><circle cx="428.2" cy="430.2" r="2.196"/><circle cx="430.7" cy="420.1" r="2.196"/><circle cx="420.6" cy="424.4" r="2.196"/><circle cx="421.6" cy="423.9" r="2.196"/><circle cx="436.3" cy="421.1" r="2.196"/><circle cx="421.3" cy="439" r="2.196"/><circle cx="430.7" cy="423.9" r="2.196"/><circle cx="428.8" cy="420.1" r="2.196"/><circle cx="424.9" cy="419.5" r="2.196"/><circle cx="429.2" cy="434.6" r="2.196"/><circle cx="436.5" cy="422.4" r="2.196"/><circle cx="432.9" cy="422.6" r="2.196"/><circle cx="431" cy="426.2" r="2.196"/><circle cx="422.3" cy="418.4" r="2.196"/><circle cx="429.6" cy="426.2" r="2.196"/><circle cx="425.7" cy="420.3" r="2.196"/><circle cx="431" cy="423.2" r="2.196"/><circle cx="431.7" cy="420.3" r="2.196"/><circle cx="417.3" cy="438.9" r="2.196"/><circle cx="419.1" cy="436.6" r="2.196"/><circle cx="422.4" cy="435.7" r="2.196"/><circle cx="414.9" cy="445.2" r="2.196"/><circle cx="422.2" cy="439.8" r="2.196"/><circle cx="424.7" cy="439.9" r="2.196"/><circle cx="425.6" cy="423.2" r="2.196"/><circle cx="442.4" cy="424.1" r="2.196"/><circle cx="438.2" cy="421.2" r="2.196"/><circle cx="465.5" cy="420.8" r="2.196"/><circle cx="459.6" cy="424.4" r="2.196"/><circle cx="465.8" cy="415.1" r="2.196"/><circle cx="442.4" cy="415.3" r="2.196"/><circle cx="440.2" cy="424.4" r="2.196"/><circle cx="450.3" cy="425.6" r="2.196"/><circle cx="440.4" cy="416.7" r="2.196"/><circle cx="455.7" cy="415.2" r="2.196"/><circle cx="459" cy="413.3" r="2.196"/><circle cx="453.7" cy="414.4" r="2.196"/><circle cx="461.4" cy="410.6" r="2.196"/><circle cx="446.4" cy="417.3" r="2.196"/><circle cx="463.6" cy="418.9" r="2.196"/><circle cx="451.3" cy="419.6" r="2.196"/><circle cx="465.9" cy="415.2" r="2.196"/><circle cx="442.8" cy="418.1" r="2.196"/><circle cx="441.2" cy="413" r="2.196"/><circle cx="457.4" cy="416.5" r="2.196"/><circle cx="456.7" cy="418.4" r="2.196"/><circle cx="451.8" cy="425.5" r="2.196"/><circle cx="457.1" cy="420.1" r="2.196"/><circle cx="465.7" cy="412.8" r="2.196"/><circle cx="452.3" cy="418.6" r="2.196"/><circle cx="447.1" cy="418.9" r="2.196"/><circle cx="455.1" cy="424.7" r="2.196"/><circle cx="451.3" cy="415.8" r="2.196"/><circle cx="464.2" cy="423.7" r="2.196"/><circle cx="460.5" cy="413.3" r="2.196"/><circle cx="456.1" cy="411.4" r="2.196"/><circle cx="453.7" cy="417.8" r="2.196"/><circle cx="458" cy="410.9" r="2.196"/><circle cx="465.7" cy="418.9" r="2.196"/><circle cx="468" cy="410.4" r="2.196"/><circle cx="459.5" cy="422.9" r="2.196"/><circle cx="467.8" cy="412.9" r="2.196"/><circle cx="447.1" cy="424.2" r="2.196"/><circle cx="458.7" cy="410.7" r="2.196"/><circle cx="455.8" cy="413.9" r="2.196"/><circle cx="461.8" cy="410.6" r="2.196"/><circle cx="459.4" cy="415.7" r="2.196"/><circle cx="441.9" cy="413.2" r="2.196"/><circle cx="464.4" cy="419.6" r="2.196"/><circle cx="449.1" cy="409.5" r="2.196"/><circle cx="459.2" cy="418" r="2.196"/><circle cx="443.7" cy="418" r="2.196"/><circle cx="463.2" cy="421.4" r="2.196"/><circle cx="467.8" cy="411.9" r="2.196"/><circle cx="452" cy="425.2" r="2.196"/><circle cx="465" cy="419.8" r="2.196"/><circle cx="440.4" cy="417.3" r="2.196"/><circle cx="454.1" cy="418" r="2.196"/><circle cx="445.9" cy="412.6" r="2.196"/><circle cx="446.4" cy="413" r="2.196"/><circle cx="466.8" cy="411.7" r="2.196"/><circle cx="449.2" cy="418.4" r="2.196"/><circle cx="457.4" cy="423.7" r="2.196"/><circle cx="461.8" cy="412.6" r="2.196"/><circle cx="455.9" cy="423" r="2.196"/><circle cx="440.8" cy="418.1" r="2.196"/><circle cx="465.9" cy="415.8" r="2.196"/><circle cx="456.8" cy="422" r="2.196"/><circle cx="448.3" cy="410.7" r="2.196"/><circle cx="458.5" cy="409.2" r="2.196"/><circle cx="465.8" cy="417.1" r="2.196"/><circle cx="454.2" cy="411.2" r="2.196"/><circle cx="453.6" cy="416.4" r="2.196"/><circle cx="457.2" cy="410.4" r="2.196"/><circle cx="445.9" cy="418.1" r="2.196"/><circle cx="461" cy="420.2" r="2.196"/><circle cx="351.5" cy="464.9" r="2.196"/><circle cx="352.6" cy="465" r="2.196"/><circle cx="354" cy="465.6" r="2.196"/><circle cx="354.1" cy="465.4" r="2.196"/><circle cx="355" cy="466" r="2.196"/><circle cx="355.4" cy="466.5" r="2.196"/><circle cx="356.8" cy="466.4" r="2.196"/><circle cx="357.4" cy="467.2" r="2.196"/><circle cx="357.7" cy="467.9" r="2.196"/><circle cx="358.4" cy="468.1" r="2.196"/><circle cx="359" cy="468.6" r="2.196"/><circle cx="359.9" cy="468.7" r="2.196"/><circle cx="361" cy="469.1" r="2.196"/><circle cx="361.9" cy="469" r="2.196"/><circle cx="362.3" cy="469.7" r="2.196"/><circle cx="363.3" cy="469.9" r="2.196"/><circle cx="363.6" cy="470.4" r="2.196"/><circle cx="364.1" cy="470.7" r="2.196"/><circle cx="365.1" cy="471.2" r="2.196"/><circle cx="365.8" cy="470.2" r="2.196"/><circle cx="366.9" cy="470" r="2.196"/><circle cx="367" cy="469.4" r="2.196"/><circle cx="368.7" cy="469.4" r="2.196"/><circle cx="368.6" cy="468.6" r="2.196"/><circle cx="369.8" cy="468.6" r="2.196"/><circle cx="370" cy="468.3" r="2.196"/><circle cx="371.3" cy="468" r="2.196"/><circle cx="371.6" cy="467" r="2.196"/><circle cx="372.9" cy="466.6" r="2.196"/><circle cx="373.5" cy="466.6" r="2.196"/><circle cx="374.6" cy="466.4" r="2.196"/><circle cx="374.6" cy="465.6" r="2.196"/><circle cx="376.1" cy="465.4" r="2.196"/><circle cx="376.6" cy="465.1" r="2.196"/><circle cx="377.1" cy="464.7" r="2.196"/><circle cx="89.3" cy="367.3" r="2.196"/><circle cx="136.3" cy="412" r="2.196"/><circle cx="245.9" cy="340.1" r="2.196"/><circle cx="268" cy="340.1" r="2.196"/><circle cx="243.9" cy="346.3" r="2.196"/><circle cx="260.1" cy="346" r="2.196"/><circle cx="274.4" cy="346" r="2.196"/><circle cx="263.5" cy="350.1" r="2.196"/><circle cx="279.6" cy="351.6" r="2.196"/><circle cx="265.2" cy="354.8" r="2.196"/><circle cx="263.2" cy="357.6" r="2.196"/><circle cx="263.4" cy="357.4" r="2.196"/><circle cx="263.9" cy="356.4" r="2.196"/><circle cx="270.5" cy="359.7" r="2.196"/><circle cx="274.4" cy="356.9" r="2.196"/><circle cx="276.9" cy="356.9" r="2.196"/><circle cx="278.6" cy="356.9" r="2.196"/><circle cx="276.8" cy="360.9" r="2.196"/><circle cx="293.3" cy="367.2" r="2.196"/><circle cx="267.5" cy="368.8" r="2.196"/><circle cx="250.5" cy="372.8" r="2.196"/><circle cx="260.4" cy="373.6" r="2.196"/><circle cx="264.5" cy="373.6" r="2.196"/><circle cx="268.7" cy="373.6" r="2.196"/><circle cx="272" cy="373.6" r="2.196"/><circle cx="274.5" cy="373.6" r="2.196"/><circle cx="277" cy="373.6" r="2.196"/><circle cx="278.6" cy="373.6" r="2.196"/><circle cx="281.9" cy="373.6" r="2.196"/><circle cx="284.4" cy="373.6" r="2.196"/><circle cx="287.7" cy="373.6" r="2.196"/><circle cx="293.4" cy="373" r="2.196"/><circle cx="271.1" cy="379.2" r="2.196"/><circle cx="275.3" cy="377.9" r="2.196"/><circle cx="284.4" cy="378.7" r="2.196"/><circle cx="288.5" cy="380" r="2.196"/><circle cx="255.5" cy="383.5" r="2.196"/><circle cx="248.9" cy="386.1" r="2.196"/><circle cx="265.4" cy="387.8" r="2.196"/><circle cx="268.7" cy="386.1" r="2.196"/><circle cx="276.1" cy="383.2" r="2.196"/><circle cx="233.5" cy="392.4" r="2.196"/><circle cx="269.2" cy="390.8" r="2.196"/><circle cx="262.9" cy="398.7" r="2.196"/><circle cx="258.9" cy="400.2" r="2.196"/><circle cx="270.5" cy="397.4" r="2.196"/><circle cx="225.2" cy="406.5" r="2.196"/><circle cx="248" cy="412.1" r="2.196"/><circle cx="246.4" cy="419.2" r="2.196"/><circle cx="277.7" cy="413.4" r="2.196"/><circle cx="276.9" cy="402.7" r="2.196"/><circle cx="273.6" cy="400.2" r="2.196"/><circle cx="263.2" cy="359.5" r="2.196"/><circle cx="269.7" cy="386.1" r="2.196"/><circle cx="294.4" cy="386.1" r="2.196"/><circle cx="301.8" cy="389.4" r="2.196"/><circle cx="303.4" cy="394.5" r="2.196"/><circle cx="276.7" cy="404.1" r="2.196"/><circle cx="308.5" cy="403.7" r="2.196"/><circle cx="305.5" cy="400.5" r="2.196"/><circle cx="280.3" cy="407.3" r="2.196"/><circle cx="280.3" cy="410.5" r="2.196"/><circle cx="287.3" cy="421.1" r="2.196"/><circle cx="318.4" cy="414.6" r="2.196"/><circle cx="313.2" cy="412.3" r="2.196"/><circle cx="293.3" cy="431.3" r="2.196"/><circle cx="300" cy="446" r="2.196"/><circle cx="299.4" cy="435.7" r="2.196"/><circle cx="304.1" cy="440.1" r="2.196"/><circle cx="341.1" cy="463.6" r="2.196"/><circle cx="354.1" cy="426.3" r="2.196"/><circle cx="355.8" cy="439.5" r="2.196"/><circle cx="353.6" cy="444.9" r="2.196"/><circle cx="350.5" cy="448.9" r="2.196"/><circle cx="361.3" cy="457.4" r="2.196"/><circle cx="408.9" cy="351.9" r="2.196"/><circle cx="398.9" cy="357.3" r="2.196"/><circle cx="401.1" cy="374.9" r="2.196"/><circle cx="381.7" cy="386.3" r="2.196"/><circle cx="378.9" cy="413.3" r="2.196"/><circle cx="375.4" cy="435.1" r="2.196"/><circle cx="375.7" cy="443.8" r="2.196"/><circle cx="381" cy="442.6" r="2.196"/><circle cx="394.5" cy="442.6" r="2.196"/><circle cx="372" cy="459.9" r="2.196"/><circle cx="367.6" cy="463.1" r="2.196"/><circle cx="416.4" cy="452.1" r="2.196"/><circle cx="415.3" cy="455.4" r="2.196"/><circle cx="402.9" cy="459.9" r="2.196"/><circle cx="395.5" cy="461.7" r="2.196"/><circle cx="445.2" cy="434.9" r="2.196"/><circle cx="447.4" cy="445.2" r="2.196"/><circle cx="435.6" cy="433" r="2.196"/><circle cx="430.8" cy="443.3" r="2.196"/><circle cx="426.4" cy="443.8" r="2.196"/><circle cx="429.3" cy="438.9" r="2.196"/><circle cx="434.9" cy="427.9" r="2.196"/><circle cx="476.4" cy="337.5" r="2.196"/><circle cx="473.5" cy="340.1" r="2.196"/><circle cx="489.6" cy="337.6" r="2.196"/><circle cx="492.6" cy="337.6" r="2.196"/><circle cx="481.9" cy="343.5" r="2.196"/><circle cx="520.5" cy="346.4" r="2.196"/><circle cx="461.7" cy="353.2" r="2.196"/><circle cx="470.8" cy="355.1" r="2.196"/><circle cx="484.8" cy="355" r="2.196"/><circle cx="502.8" cy="355.2" r="2.196"/><circle cx="476.1" cy="357" r="2.196"/><circle cx="460.4" cy="361.1" r="2.196"/><circle cx="468.2" cy="361" r="2.196"/><circle cx="475.7" cy="361.1" r="2.196"/><circle cx="477.7" cy="362.3" r="2.196"/><circle cx="481.6" cy="361" r="2.196"/><circle cx="491.7" cy="361.7" r="2.196"/><circle cx="467.5" cy="368.2" r="2.196"/><circle cx="460.1" cy="372" r="2.196"/><circle cx="460.3" cy="372.1" r="2.196"/><circle cx="464.2" cy="373.5" r="2.196"/><circle cx="479.6" cy="372.4" r="2.196"/><circle cx="495.7" cy="372.4" r="2.196"/><circle cx="501.7" cy="373.2" r="2.196"/><circle cx="501.5" cy="373.2" r="2.196"/><circle cx="501.9" cy="373.3" r="2.196"/><circle cx="520" cy="376.8" r="2.196"/><circle cx="467.2" cy="376.7" r="2.196"/><circle cx="469.4" cy="376.7" r="2.196"/><circle cx="460.7" cy="380.8" r="2.196"/><circle cx="451.6" cy="382.1" r="2.196"/><circle cx="481.4" cy="380.2" r="2.196"/><circle cx="478.6" cy="382.1" r="2.196"/><circle cx="490.4" cy="383" r="2.196"/><circle cx="466.4" cy="384.6" r="2.196"/><circle cx="519.3" cy="386.1" r="2.196"/><circle cx="455.1" cy="388.9" r="2.196"/><circle cx="463.8" cy="388.9" r="2.196"/><circle cx="466.4" cy="391.1" r="2.196"/><circle cx="470.2" cy="390.3" r="2.196"/><circle cx="486.8" cy="392.3" r="2.196"/><circle cx="495.9" cy="392.3" r="2.196"/><circle cx="530.9" cy="390.8" r="2.196"/><circle cx="457" cy="393" r="2.196"/><circle cx="452.5" cy="394.3" r="2.196"/><circle cx="441.5" cy="397.4" r="2.196"/><circle cx="444.7" cy="400.2" r="2.196"/><circle cx="456.2" cy="398.4" r="2.196"/><circle cx="454.2" cy="401.8" r="2.196"/><circle cx="454.3" cy="402" r="2.196"/><circle cx="476.3" cy="398.3" r="2.196"/><circle cx="493.6" cy="397.5" r="2.196"/><circle cx="497" cy="397.5" r="2.196"/><circle cx="504.6" cy="398.3" r="2.196"/><circle cx="517.4" cy="397.5" r="2.196"/><circle cx="530.5" cy="400" r="2.196"/><circle cx="492.4" cy="402.8" r="2.196"/><circle cx="536.9" cy="402.8" r="2.196"/><circle cx="462" cy="405.6" r="2.196"/><circle cx="467.2" cy="406.3" r="2.196"/><circle cx="477" cy="411.9" r="2.196"/><circle cx="480.4" cy="411.9" r="2.196"/><circle cx="483.6" cy="411.9" r="2.196"/><circle cx="504.8" cy="411.9" r="2.196"/><circle cx="469.7" cy="413.4" r="2.196"/><circle cx="470.8" cy="417" r="2.196"/><circle cx="472.3" cy="420" r="2.196"/><circle cx="478.5" cy="417.8" r="2.196"/><circle cx="478.9" cy="421.1" r="2.196"/><circle cx="479.1" cy="421.3" r="2.196"/><circle cx="480.4" cy="422.6" r="2.196"/><circle cx="488.6" cy="424.7" r="2.196"/><circle cx="482" cy="428.9" r="2.196"/><circle cx="450.3" cy="429.5" r="2.196"/><circle cx="454.7" cy="428.5" r="2.196"/><circle cx="460.4" cy="428.9" r="2.196"/><circle cx="456.7" cy="438.6" r="2.196"/><circle cx="561.1" cy="357.2" r="2.196"/><circle cx="564.3" cy="357.2" r="2.196"/><circle cx="249.5" cy="439.1" r="2.196"/>
</g>
<g class="r" fill="#f00" fill-opacity="0.6" stroke="#f00" stroke-opacity="0.6" stroke-width="1.389">
<circle cx="653.2" cy="93.1" r="2.196"/><circle cx="553.6" cy="113.4" r="2.196"/><circle cx="575.3" cy="113.1" r="2.196"/><circle cx="568.3" cy="118.9" r="2.196"/><circle cx="541.8" cy="137.4" r="2.196"/><circle cx="404.2" cy="50.7" r="2.196"/><circle cx="226.9" cy="195.9" r="2.196"/><circle cx="226.3" cy="241.1" r="2.196"/><circle cx="235.7" cy="273.4" r="2.196"/><circle cx="253.9" cy="275.4" r="2.196"/><circle cx="249.3" cy="283" r="2.196"/><circle cx="257.1" cy="298.4" r="2.196"/><circle cx="272.2" cy="298.4" r="2.196"/><circle cx="244.4" cy="303.5" r="2.196"/><circle cx="249.8" cy="303.5" r="2.196"/><circle cx="250.7" cy="303.7" r="2.196"/><circle cx="250.2" cy="303.6" r="2.196"/><circle cx="231" cy="314.1" r="2.196"/><circle cx="235.7" cy="314.1" r="2.196"/><circle cx="254.3" cy="314.1" r="2.196"/><circle cx="262.9" cy="314.8" r="2.196"/><circle cx="264.6" cy="313.8" r="2.196"/><circle cx="245.4" cy="324.7" r="2.196"/><circle cx="250.4" cy="332.3" r="2.196"/><circle cx="257.1" cy="332.3" r="2.196"/><circle cx="273.9" cy="332.3" r="2.196"/><circle cx="536" cy="179.6" r="2.196"/><circle cx="545.7" cy="186.1" r="2.196"/><circle cx="536" cy="190.3" r="2.196"/><circle cx="605.5" cy="178.4" r="2.196"/><circle cx="544.7" cy="203.1" r="2.196"/><circle cx="570.6" cy="217.9" r="2.196"/><circle cx="540.9" cy="230.6" r="2.196"/><circle cx="507" cy="263.9" r="2.196"/><circle cx="507" cy="263.9" r="2.196"/><circle cx="507.2" cy="263.9" r="2.196"/><circle cx="569.3" cy="263.9" r="2.196"/><circle cx="498.2" cy="277.1" r="2.196"/><circle cx="520.5" cy="283.3" r="2.196"/><circle cx="522.6" cy="303.3" r="2.196"/><circle cx="534.6" cy="303.3" r="2.196"/><circle cx="620.9" cy="303.3" r="2.196"/><circle cx="497.3" cy="315.3" r="2.196"/>
</g></g>
<g fill="#000">
<rect x="107.945" y="492.5" width="1.11" height="5"/>
<rect x="236.945" y="492.5" width="1.11" height="5"/>
<rect x="364.945" y="492.5" width="1.11" height="5"/>
<rect x="493.945" y="492.5" width="1.11" height="5"/>
<rect x="622.945" y="492.5" width="1.11" height="5"/>
<rect x="56.5" y="470.945" width="5" height="1.11"/>
<rect x="56.5" y="417.945" width="5" height="1.11"/>
<rect x="56.5" y="365.945" width="5" height="1.11"/>
<rect x="56.5" y="312.945" width="5" height="1.11"/>
<rect x="56.5" y="260.945" width="5" height="1.11"/>
<rect x="56.5" y="207.945" width="5" height="1.11"/>
<rect x="56.5" y="155.945" width="5" height="1.11"/>
<rect x="56.5" y="102.945" width="5" height="1.11"/>
<rect x="56.5" y="50.945" width="5" height="1.11"/>
<rect x="60.945" y="29.945" width="621.11" height="1.11"/><rect x="60.945" y="491.945" width="621.11" height="1.11"/><rect x="60.945" y="29.945" width="1.11" height="463.11"/><rect x="680.945" y="29.945" width="1.11" height="463.11"/>
</g>
<g class="t" text-anchor="middle">
<text x="107.34" y="513">−4</text>
<text x="236.27" y="513">−2</text>
<text x="366.44" y="513">0</text>
<text x="494.45" y="513">2</text>
<text x="623.50" y="513">4</text>
</g><g class="t">
<text x="30.93 38.65 42.94" y="476.86">0.0</text>
<text x="30.97 38.69 43.22" y="423.86">0.5</text>
<text x="29.91 37.75 42.16" y="371.86">1.0</text>
<text x="29.96 37.68 42.22" y="318.86">1.5</text>
<text x="29.99 38.83 42.99" y="266.86">2.0</text>
<text x="30.00 38.71 43.24" y="213.86">2.5</text>
<text x="29.89 37.73 41.90" y="161.86">3.0</text>
<text x="29.95 37.66 42.20" y="108.86">3.5</text>
<text x="29.92 37.63 41.92" y="56.86">4.0</text>
</g>
<text class="t" y="533.4" x="312.90 316.74 325.49 334.29 343.12 347.52 352.16 360.65 364.76 373.57 377.98 385.73 394.40 402.90 411.69 420.51">log2 fold change</text>
<text class="t" transform="translate(19.6 261.9) rotate(-90)" x="-82.23 -77.48 -73.37 -64.88 -55.82 -46.99 -38.16 -33.76 -25.26 -16.45 -12.60 -3.81 3.43 8.87 17.40 26.21 30.62 39.43 44.07 52.40 60.90 64.63 73.43">-log10 adjusted p-value</text>
<text transform="translate(370.8 22) scale(0.998 1.06)" font-size="16.667px" x="-122.17 -112.07 -101.76 -97.26 -87.98 -77.78 -67.36 -57.17 -51.88 -41.30 -36.94 -26.50 -20.21 -14.36 -9.06 -0.16 10.28 20.13 24.75 35.33 40.62 50.47 59.15 64.44 73.60 83.78 94.33 100.86 107.09 117.52">Volcano plot: covid vs control</text>
</svg></body></html>
